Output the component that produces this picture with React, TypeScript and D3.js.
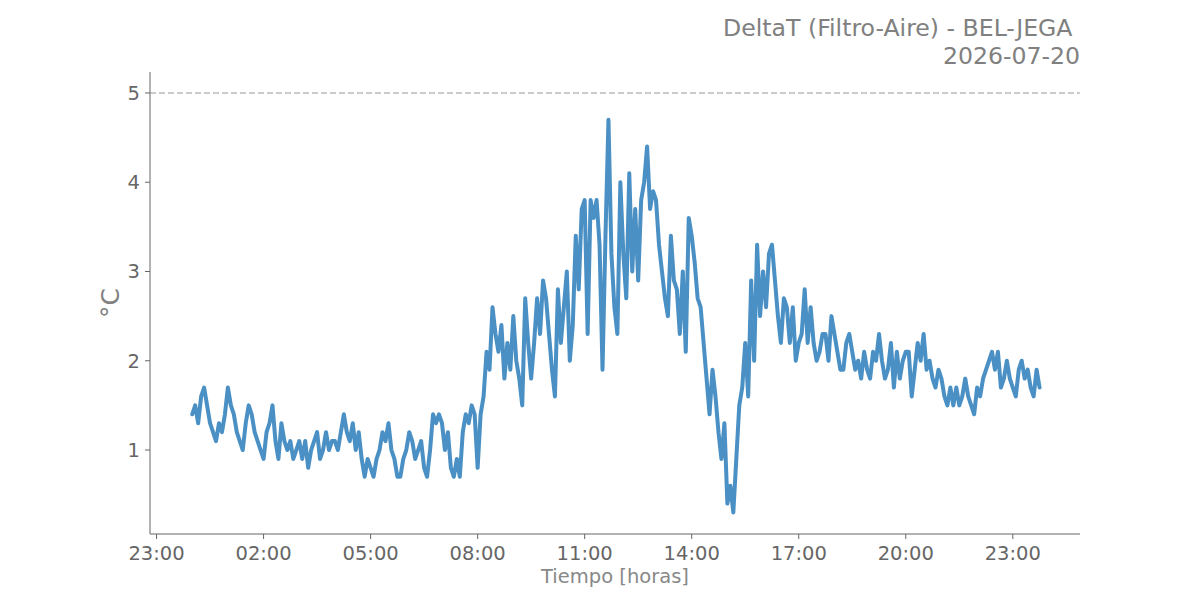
import * as d3 from 'd3'
import React from 'react'

// DeltaT readings every 5 minutes, starting 2026-07-20 00:00
const deltaNight = [
  1.4, 1.5, 1.3, 1.6, 1.7, 1.5, 1.3, 1.2, 1.1, 1.3, 1.2, 1.4,
  1.7, 1.5, 1.4, 1.2, 1.1, 1.0, 1.3, 1.5, 1.4, 1.2, 1.1, 1.0,
  0.9, 1.2, 1.3, 1.5, 1.1, 0.9, 1.3, 1.1, 1.0, 1.1, 0.9, 1.0,
  1.1, 0.9, 1.1, 0.8, 1.0, 1.1, 1.2, 0.9, 1.0, 1.2, 1.0, 1.1,
  1.1, 1.0, 1.2, 1.4, 1.2, 1.1, 1.3, 1.0, 1.2, 0.9, 0.7, 0.9,
  0.8, 0.7, 0.9, 1.0, 1.2, 1.1, 1.3, 1.0, 0.9, 0.7, 0.7, 0.9,
]
const deltaMorning = [
  1.0, 1.2, 1.1, 0.9, 1.0, 1.1, 0.8, 0.7, 1.0, 1.4, 1.3, 1.4,
  1.3, 1.0, 1.2, 0.8, 0.7, 0.9, 0.7, 1.2, 1.4, 1.3, 1.5, 1.4,
  0.8, 1.4, 1.6, 2.1, 1.9, 2.6, 2.3, 2.1, 2.4, 1.8, 2.2, 1.9,
  2.5, 2.0, 1.8, 1.5, 2.7, 2.2, 1.8, 2.2, 2.7, 2.3, 2.9, 2.7,
  2.3, 1.9, 1.6, 2.8, 2.2, 2.6, 3.0, 2.0, 2.4, 3.4, 2.8, 3.7,
  3.8, 2.3, 3.8, 3.6, 3.8, 3.3, 1.9, 3.4, 4.7, 3.2, 2.6, 2.3,
]
const deltaAfternoon = [
  4.0, 3.2, 2.7, 4.1, 3.0, 3.7, 2.9, 3.8, 4.0, 4.4, 3.7, 3.9,
  3.8, 3.3, 3.0, 2.7, 2.5, 3.4, 2.9, 2.8, 2.3, 3.0, 2.1, 3.6,
  3.4, 3.1, 2.7, 2.6, 2.2, 1.8, 1.4, 1.9, 1.6, 1.2, 0.9, 1.3,
  0.4, 0.6, 0.3, 0.9, 1.5, 1.7, 2.2, 1.6, 2.9, 2.0, 3.3, 2.5,
  3.0, 2.6, 3.2, 3.3, 2.9, 2.5, 2.2, 2.7, 2.6, 2.2, 2.6, 2.0,
  2.2, 2.3, 2.8, 2.2, 2.6, 2.2, 2.0, 2.1, 2.3, 2.3, 2.0, 2.5,
]
const deltaEvening = [
  2.3, 2.1, 1.9, 1.9, 2.2, 2.3, 2.1, 1.9, 2.0, 1.8, 2.1, 1.9,
  1.8, 2.1, 2.0, 2.3, 2.0, 1.8, 1.9, 2.2, 1.7, 2.1, 1.8, 2.0,
  2.1, 2.1, 1.6, 1.9, 2.2, 2.0, 2.3, 1.9, 2.0, 1.8, 1.7, 1.9,
  1.8, 1.6, 1.5, 1.7, 1.5, 1.7, 1.5, 1.6, 1.8, 1.6, 1.5, 1.4,
  1.7, 1.6, 1.8, 1.9, 2.0, 2.1, 1.9, 2.1, 1.7, 1.8, 2.0, 1.8,
  1.7, 1.6, 1.9, 2.0, 1.8, 1.9, 1.7, 1.6, 1.9, 1.7,
]
const yTicks = [1, 2, 3, 4, 5]
const limitValue = 5
const titleLines = ['DeltaT (Filtro-Aire) - BEL-JEGA ', '2026-07-20']

const start = new Date(2026, 6, 20, 0, 0)
const readings = [...deltaNight, ...deltaMorning, ...deltaAfternoon, ...deltaEvening].map((v, i) => ({
  t: d3.timeMinute.offset(start, i * 5),
  v,
}))

const W = 1200
const H = 600
const left = 150
const right = 1080
const top = 72
const bottom = 534
const font = '"DejaVu Sans", sans-serif'

export default function App() {
  const x = d3
    .scaleTime()
    .domain([d3.timeMinute.offset(start, -71), d3.timeMinute.offset(start, 1493)])
    .range([left, right])
  const y = d3.scaleLinear().domain([0.059, 5.235]).range([bottom, top])

  const xTicks = d3.timeHour.range(new Date(2026, 6, 19, 23), new Date(2026, 6, 21, 0, 30), 3)
  const fmt = d3.timeFormat('%H:%M')

  const line = d3
    .line<{ t: Date; v: number }>()
    .x(d => x(d.t))
    .y(d => y(d.v))

  return (
    <svg width={W} height={H} style={{ display: 'block', margin: -8 }} fontFamily={font}>
      <rect width={W} height={H} fill="#fff" />
      {titleLines.map((t, i) => (
        <text key={i} x={right} y={36 + i * 28} textAnchor="end" fontSize={23.6} fill="#808080" style={{ whiteSpace: 'pre' }}>
          {t}
        </text>
      ))}

      <line x1={left} x2={right} y1={y(limitValue)} y2={y(limitValue)} stroke="#bbbbbb" strokeWidth={1.5} strokeDasharray="6,3" />

      <path d={line(readings) ?? ''} fill="none" stroke="#4a90c4" strokeWidth={4} strokeLinejoin="round" strokeLinecap="round" />

      <line x1={left} x2={left} y1={top} y2={bottom} stroke="#666" strokeWidth={1} />
      <line x1={left} x2={right} y1={bottom} y2={bottom} stroke="#666" strokeWidth={1} />

      {yTicks.map(t => (
        <g key={t} transform={`translate(${left},${y(t)})`}>
          <line x1={-5} x2={0} stroke="#666" />
          <text x={-10} dy="0.35em" textAnchor="end" fontSize={19.5} fill="#666">
            {t}
          </text>
        </g>
      ))}
      {xTicks.map(t => (
        <g key={+t} transform={`translate(${x(t)},${bottom})`}>
          <line y1={0} y2={5} stroke="#666" />
          <text y={26} textAnchor="middle" fontSize={19.5} fill="#666">
            {fmt(t)}
          </text>
        </g>
      ))}

      <text x={(left + right) / 2} y={583} textAnchor="middle" fontSize={19.5} fill="#888">
        Tiempo [horas]
      </text>
      <text transform={`translate(119,${(top + bottom) / 2}) rotate(-90)`} textAnchor="middle" fontSize={25} fill="#808080">
        °C
      </text>
    </svg>
  )
}
